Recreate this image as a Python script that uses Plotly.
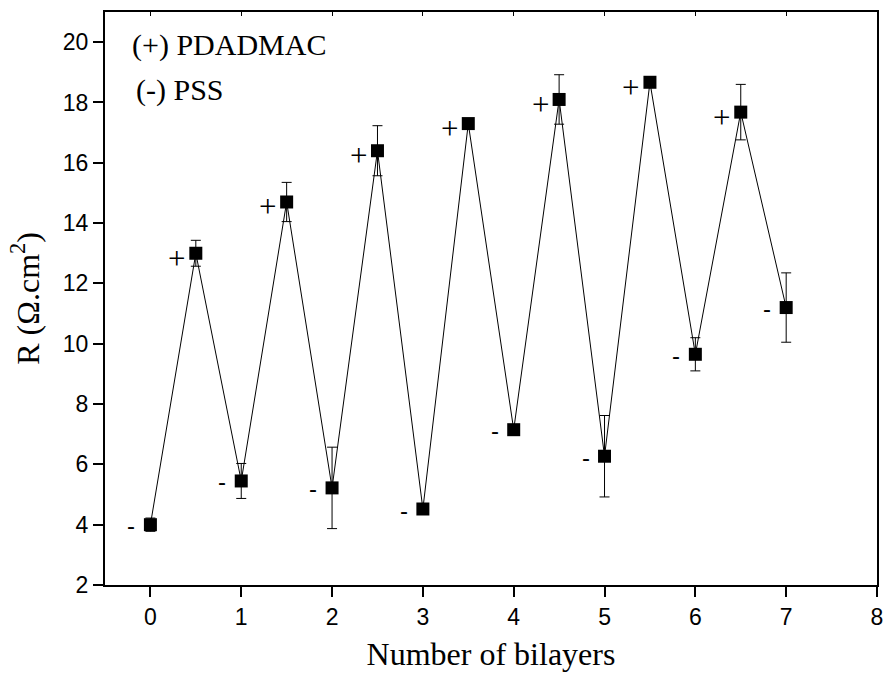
import plotly.graph_objects as go

# Resistance measured after each adsorbed layer
layers = [0, 0.5, 1, 1.5, 2, 2.5, 3, 3.5, 4, 4.5, 5, 5.5, 6, 6.5, 7]
resistance = [4.0, 13.0, 5.45, 14.7, 5.22, 16.4, 4.52, 17.3, 7.15, 18.1, 6.27, 18.67, 9.65, 17.68, 11.2]
resistance_err = [0.22, 0.43, 0.58, 0.65, 1.35, 0.83, 0.08, 0.15, 0.08, 0.82, 1.35, 0.08, 0.55, 0.92, 1.15]
# Polyelectrolyte of the outermost layer
layer_sign = ["-", "+", "-", "+", "-", "+", "-", "+", "-", "+", "-", "+", "-", "+", "-"]

x_ticks = [0, 1, 2, 3, 4, 5, 6, 7, 8]
y_ticks = [2, 4, 6, 8, 10, 12, 14, 16, 18, 20]

SERIF = "Liberation Serif"
SANS = "Liberation Sans"

fig = go.Figure()
fig.add_trace(go.Scatter(
    x=layers, y=resistance,
    mode="lines+markers",
    line=dict(color="black", width=1),
    marker=dict(symbol="square", size=13, color="black"),
    error_y=dict(type="data", array=resistance_err, visible=True,
                 color="black", thickness=1, width=5),
    showlegend=False,
))

# The top axis carries inward ticks only
fig.add_trace(go.Scatter(x=[0], y=[None], xaxis="x2", showlegend=False,
                         mode="markers", hoverinfo="skip"))

annotations = []
for xv, yv, s in zip(layers, resistance, layer_sign):
    plus = s == "+"
    annotations.append(dict(
        x=xv, y=yv, xref="x", yref="y", text=s, showarrow=False,
        xshift=-19, yshift=-5 if plus else -1,
        font=dict(family=SERIF if plus else SANS,
                  size=31 if plus else 24, color="#000000"),
    ))

annotations.append(dict(
    x=0.032, y=0.942, xref="paper", yref="paper", xanchor="left", yanchor="middle",
    text="(+) PDADMAC", showarrow=False,
    font=dict(family=SERIF, size=30, color="black"),
))
annotations.append(dict(
    x=0.038, y=0.864, xref="paper", yref="paper", xanchor="left", yanchor="middle",
    text="(-) PSS", showarrow=False,
    font=dict(family=SERIF, size=30, color="black"),
))

fig.update_layout(
    width=890, height=679,
    margin=dict(l=105, r=7, t=12, b=94),
    paper_bgcolor="white", plot_bgcolor="white",
    annotations=annotations,
    xaxis=dict(
        range=[-0.5, 8], tickvals=x_ticks, ticktext=[str(v) for v in x_ticks],
        ticks="outside", ticklen=10, tickwidth=2, tickcolor="black",
        showline=True, linecolor="black", linewidth=2, mirror=True,
        showgrid=False, zeroline=False,
        tickfont=dict(family=SANS, size=23, color="black"),
        title=dict(text="Number of bilayers", standoff=14,
                   font=dict(family=SERIF, size=32, color="black")),
    ),
    xaxis2=dict(
        range=[-0.5, 8], tickvals=x_ticks, overlaying="x", side="top",
        ticks="inside", ticklen=4, tickwidth=1, tickcolor="black",
        showticklabels=False, showgrid=False, zeroline=False, showline=False,
    ),
    yaxis=dict(
        range=[2, 21], tickvals=y_ticks, ticktext=[str(v) for v in y_ticks],
        ticks="outside", ticklen=10, tickwidth=2, tickcolor="black",
        showline=True, linecolor="black", linewidth=2, mirror=True,
        showgrid=False, zeroline=False,
        tickfont=dict(family=SANS, size=23, color="black"),
        title=dict(text="R (Ω.cm<sup>2</sup>)", standoff=14,
                   font=dict(family=SERIF, size=32, color="black")),
    ),
)

fig.write_html("out.html")
